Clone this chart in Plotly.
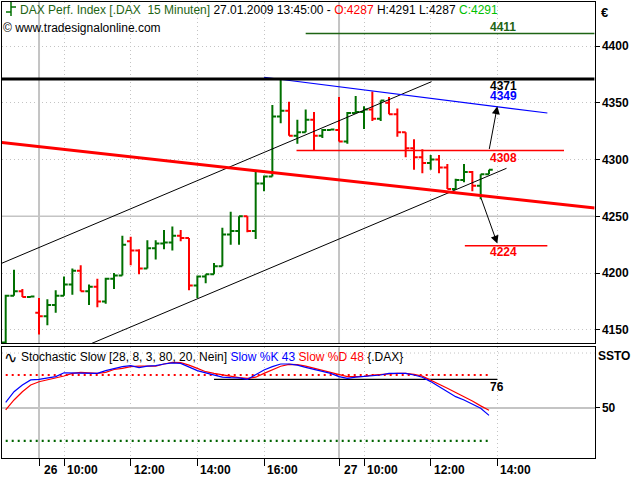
import plotly.graph_objects as go

# ---------------- data ----------------
bar_index = list(range(59))
opens  = [4139, 4180, 4184, 4179, 4165, 4162, 4172, 4180, 4190, 4202,
          4184, 4188, 4175, 4195, 4198, 4228, 4220, 4204, 4222, 4226,
          4227, 4233, 4231, 4189, 4197, 4199, 4206, 4234, 4237, 4250,
          4237, 4279, 4285, 4338, 4343, 4321, 4324, 4335, 4321, 4326,
          4326, 4316, 4341, 4342, 4344, 4336, 4350, 4340, 4324, 4310,
          4302, 4297, 4300, 4293, 4274, 4282, 4289, 4277, 4287]
highs  = [4181, 4203, 4186, 4179.5, 4178, 4177, 4185, 4197, 4204, 4207,
          4190, 4195, 4196, 4200, 4233, 4232, 4221, 4229, 4229, 4238,
          4241, 4238, 4231, 4198, 4199, 4209, 4240, 4254, 4250, 4250,
          4290, 4286, 4348, 4371, 4351, 4335, 4344, 4342, 4327, 4326.5,
          4355, 4342, 4356, 4347, 4360, 4352, 4355, 4345, 4324, 4318,
          4309, 4304, 4304, 4296, 4283, 4296, 4290, 4287, 4291]
lows   = [4134, 4180, 4179, 4179, 4146, 4154, 4165, 4180, 4181, 4184,
          4172, 4170, 4173, 4186, 4198, 4207, 4199, 4204, 4212, 4221,
          4220, 4228, 4185, 4178, 4191, 4199, 4206, 4225, 4225, 4236,
          4230, 4272, 4285, 4332, 4321, 4314, 4324, 4308, 4319, 4326,
          4316, 4314, 4341, 4327, 4334, 4334, 4340, 4320, 4302, 4291,
          4288, 4291, 4288, 4274, 4274, 4280, 4272, 4265, 4287]
closes = [4180, 4184, 4179, 4179.5, 4162, 4172, 4180, 4190, 4202, 4184,
          4188, 4175, 4195, 4198, 4225, 4220, 4204, 4222, 4226, 4227,
          4233, 4231, 4189, 4197, 4199, 4206, 4234, 4237, 4250, 4237,
          4279, 4285, 4338, 4343, 4321, 4324, 4335, 4321, 4326, 4326.5,
          4316, 4341, 4342, 4344, 4336, 4352, 4340, 4324, 4310, 4302,
          4297, 4300, 4293, 4274, 4282, 4289, 4277, 4287, 4291]

slow_k = [55.2, 64.8, 70.9, 75.5, 76.0, 77.0, 78.5, 82.0, 82.0, 82.0,
          82.0, 81.5, 84.0, 86.0, 87.6, 88.5, 86.8, 88.0, 88.5, 90.0,
          91.0, 90.6, 87.6, 84.0, 82.0, 80.0, 78.0, 77.6, 77.4, 76.0,
          80.0, 84.5, 87.6, 90.0, 90.0, 89.0, 87.0, 85.0, 83.0, 81.5,
          78.5, 77.0, 78.0, 78.5, 79.0, 80.0, 81.5, 81.5, 81.5, 80.0,
          78.0, 74.0, 69.5, 64.8, 60.3, 57.3, 53.6, 49.7, 43.3]
slow_d = [48.2, 57.3, 64.8, 70.9, 73.9, 75.5, 77.0, 79.1, 81.5, 82.4,
          82.0, 81.5, 82.4, 85.0, 86.0, 87.6, 88.0, 88.0, 88.0, 90.0,
          91.5, 91.2, 89.0, 86.0, 83.0, 81.5, 80.0, 78.5, 77.6, 77.0,
          78.0, 81.5, 85.0, 88.0, 89.7, 89.5, 88.0, 86.0, 84.0, 82.4,
          80.0, 78.5, 78.5, 78.8, 80.0, 80.6, 81.5, 81.5, 81.5, 80.6,
          79.0, 75.5, 71.8, 67.9, 64.0, 60.3, 56.4, 51.9, 48.0]

time_tick_idx  = [4, 7, 15, 23, 31, 40, 43, 51, 59]
time_tick_text = ["26", "10:00", "12:00", "14:00", "16:00", "27", "10:00", "12:00", "14:00"]
day_tick_idx   = [4, 40]
price_ticks    = [4150, 4200, 4250, 4300, 4350, 4400]

# drawn analysis lines (bar index, price)
upper_channel_x, upper_channel_y = [-0.5, 51.1], [4208.6, 4368.6]
lower_channel_x, lower_channel_y = [10.0, 60.1], [4137.1, 4292.3]
regression_x, regression_y = [-0.5, 70.7], [4315.0, 4257.3]
downtrend_x, downtrend_y = [31.0, 65.0], [4372.5, 4341.0]
level_values = [4411, 4371, 4308, 4224]
level_x0 = [36.0, -0.5, 34.9, 55.1]
level_x1 = [70.7, 70.7, 67.0, 65.0]
arrow_up = [(58, 4308), (59, 4347)]
arrow_down = [(57, 4267), (59, 4226)]
target_labels = ["4411", "4371", "4349", "4308", "4224"]
target_values = [4411, 4371, 4349, 4308, 4224]
stoch_levels = [80, 20]
stoch_mark = 76

# ---------------- style ----------------
GREEN = "#007000"
RED = "#ff0000"
BLUE = "#0000ff"
GRID = "#c4c4c4"
FONT = "Liberation Sans, Arial"
W, H = 640, 480

def px(x):
    return x / W

def py(y):
    return 1 - y / H

fig = go.Figure()

fig.add_trace(go.Ohlc(
    x=bar_index, open=opens, high=highs, low=lows, close=closes,
    xaxis="x", yaxis="y", tickwidth=0.45,
    increasing=dict(line=dict(color=GREEN, width=2)),
    decreasing=dict(line=dict(color=RED, width=2)),
    hoverinfo="skip", showlegend=False))

def line(xs, ys, color, width, xa="x", ya="y", dash=None):
    fig.add_trace(go.Scatter(x=xs, y=ys, mode="lines", xaxis=xa, yaxis=ya,
                             line=dict(color=color, width=width, dash=dash),
                             hoverinfo="skip", showlegend=False))

line(upper_channel_x, upper_channel_y, "black", 1)
line(lower_channel_x, lower_channel_y, "black", 1)
line(regression_x, regression_y, RED, 3)
line(downtrend_x, downtrend_y, BLUE, 1.2)
level_colors = ["#1e6414", "black", RED, RED]
level_widths = [1.5, 3, 1.5, 1.5]
for v, a, b, c, w in zip(level_values, level_x0, level_x1, level_colors, level_widths):
    line([a, b], [v, v], c, w)

# stochastic
for lv, col in zip(stoch_levels, [RED, "#006400"]):
    line([bar_index[0], bar_index[-1]], [lv, lv], col, 2.2, "x2", "y2", "2px,4px")
line([25, 59], [stoch_mark, stoch_mark], "black", 1.2, "x2", "y2")
line(bar_index, slow_d, RED, 1.2, "x2", "y2")
line(bar_index, slow_k, BLUE, 1.2, "x2", "y2")

xr = [(2 - 5.7) / 8.333, (594.5 - 5.7) / 8.333]
xdom = [px(2), px(594.5)]
axis_common = dict(showline=True, linecolor="black", linewidth=1, mirror=True,
                   zeroline=False, fixedrange=True, automargin=False)

fig.update_layout(
    template="none",
    width=W, height=H, margin=dict(l=0, r=0, t=0, b=0, pad=0), autosize=False,
    paper_bgcolor="white", plot_bgcolor="white", hovermode=False, showlegend=False,
    xaxis=dict(domain=xdom, range=xr, anchor="y", tickvals=time_tick_idx,
               showticklabels=False, ticks="", showgrid=True, gridcolor=GRID,
               griddash="1px,3px", gridwidth=1, rangeslider=dict(visible=False),
               **axis_common),
    yaxis=dict(domain=[py(343.3), py(1.5)], range=[4138.2, 4439.2], anchor="x",
               side="right", tickvals=price_ticks, ticks="outside", ticklen=4,
               tickcolor="black",
               tickfont=dict(family=FONT, size=12, color="black", weight="bold"),
               showgrid=True, gridcolor=GRID, griddash="1px,3px", gridwidth=1,
               **axis_common),
    xaxis2=dict(domain=xdom, range=xr, anchor="y2", tickvals=time_tick_idx,
                showticklabels=False, ticks="outside", ticklen=7, tickcolor="black",
                showgrid=True, gridcolor=GRID, griddash="1px,3px", gridwidth=1,
                **axis_common),
    yaxis2=dict(domain=[py(458), py(347.3)], range=[4.5, 105.2], anchor="x2",
                side="right", tickvals=[50], ticks="outside", ticklen=4,
                tickcolor="black",
                tickfont=dict(family=FONT, size=12, color="black", weight="bold"),
                showgrid=True, gridcolor=GRID, gridwidth=1.5,
                **axis_common),
)

shapes = []
for d in day_tick_idx:
    for xa, ya in [("x", "y domain"), ("x2", "y2 domain")]:
        shapes.append(dict(type="line", xref=xa, yref=ya, x0=d, x1=d, y0=0, y1=1,
                           line=dict(color=GRID, width=2), layer="below"))
shapes.append(dict(type="line", xref="x domain", yref="y", x0=0, x1=1, y0=4250, y1=4250,
                   line=dict(color=GRID, width=1.5), layer="below"))
shapes.append(dict(type="line", xref="x2 domain", yref="y2", x0=0, x1=1, y0=100, y1=100,
                   line=dict(color=GRID, width=1, dash="1px,3px"), layer="below"))
# small OHLC glyph in the title
for (x0, y0, x1, y1) in [(11, 2, 11, 16), (6, 12, 11, 12), (11, 7, 16, 7)]:
    shapes.append(dict(type="line", xref="paper", yref="paper",
                       x0=px(x0), x1=px(x1), y0=py(y0), y1=py(y1),
                       line=dict(color=GREEN, width=1.5)))
fig.update_layout(shapes=shapes)

ann = []
def text(x, y, s, size=12, color="black", weight="normal", xanchor="left", **kw):
    ann.append(dict(x=x, y=y, text=s, showarrow=False, xanchor=xanchor, yanchor="middle",
                    font=dict(family=FONT, size=size, color=color, weight=weight),
                    **kw))

nb = "\u00a0"
header = (f'<span style="color:#1e6414">DAX Perf. Index [.DAX{nb}{nb}15 Minuten]</span>'
          f' 27.01.2009 13:45:00 - <span style="color:{RED}">O:4287</span>'
          f' H:4291 L:4287 <span style="color:#00c000">C:4291</span>')
text(px(18), py(10), header, xref="paper", yref="paper")
text(px(1), py(28), "© www.tradesignalonline.com", xref="paper", yref="paper")
text(px(599), py(12), "€", size=13, weight="bold", xref="paper", yref="paper")
text(px(596), py(356), "SSTO", weight="bold", xref="paper", yref="paper")

stoch_title = (f'Stochastic Slow [28, 8, 3, 80, 20, Nein] '
               f'<span style="color:{BLUE}">Slow %K 43</span> '
               f'<span style="color:{RED}">Slow %D 48</span> {{.DAX}}')
ann.append(dict(x=px(2), y=py(357), text="∿", showarrow=False, xanchor="left",
                yanchor="middle", xref="paper", yref="paper",
                font=dict(family="DejaVu Sans", size=16, color="black")))
text(px(19), py(356.5), stoch_title, xref="paper", yref="paper")

label_colors = ["#1e6414", "black", BLUE, RED, RED]
label_shift = [6.5, -7, 8, -7.5, -6]
for s, v, c, sh in zip(target_labels, target_values, label_colors, label_shift):
    text(57.9, v, s, color=c, weight="bold", xref="x", yref="y", yshift=sh)
text(57.9, stoch_mark, str(stoch_mark), weight="bold", xref="x2", yref="y2", yshift=-8)

for k, s in zip(time_tick_idx, time_tick_text):
    shift = 3 if s in ("26", "27") else 1
    text(k, py(470), s, weight="bold", xref="x2", yref="paper", xshift=shift)

for (x0, y0), (x1, y1) in [arrow_up, arrow_down]:
    ann.append(dict(x=x1, y=y1, ax=x0, ay=y0, xref="x", yref="y", axref="x", ayref="y",
                    showarrow=True, arrowhead=2, arrowsize=1.6, arrowwidth=1,
                    arrowcolor="black", text=""))

fig.update_layout(annotations=ann)
fig.write_html("out.html", config={"displayModeBar": False, "staticPlot": True},
               post_script="document.body.style.margin='0';document.body.style.overflow='hidden';")
